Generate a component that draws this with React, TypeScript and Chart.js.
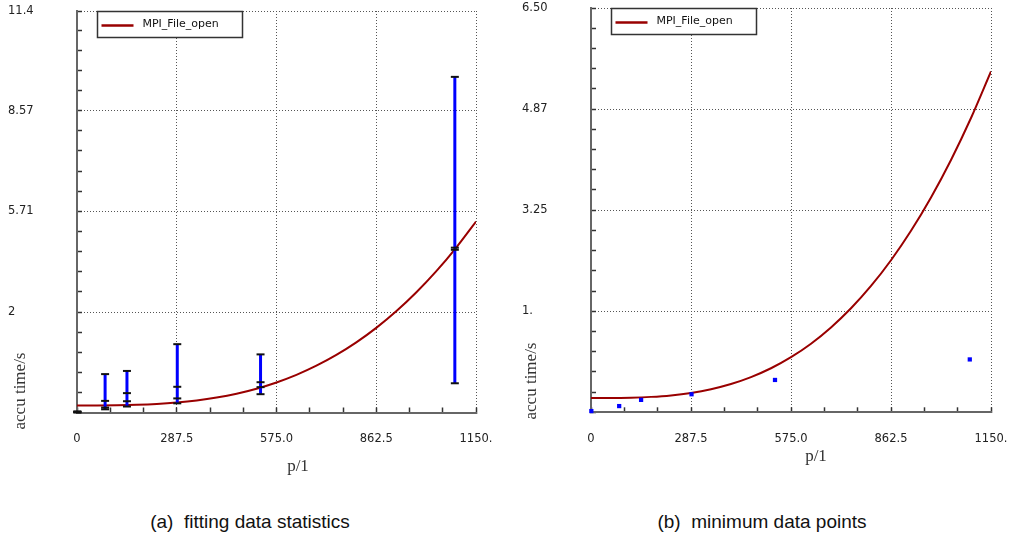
import React, { useEffect, useRef } from "react";
import { Chart, registerables } from "chart.js";

Chart.register(...registerables);

// ---------- data ----------
const pValues = [1, 81, 144, 289, 529, 1089];
const minTimes = [0.0, 0.09, 0.17, 0.26, 0.52, 0.83];
const lowMidTimes = [0.01, 0.14, 0.32, 0.4, 0.72, 4.62];
const highMidTimes = [0.02, 0.33, 0.55, 0.73, 0.86, 4.68];
const maxTimes = [0.03, 1.09, 1.18, 1.94, 1.65, 9.53];

const minPointTimes = [0.02, 0.1, 0.2, 0.29, 0.52, 0.85];

const fitP = [0, 57.5, 115, 172.5, 230, 287.5, 345, 402.5, 460, 517.5, 575, 632.5, 690, 747.5, 805, 862.5, 920, 977.5, 1035, 1092.5, 1150];
const fitStatsTimes = [0.2, 0.2, 0.205, 0.218, 0.242, 0.282, 0.341, 0.424, 0.534, 0.676, 0.853, 1.068, 1.328, 1.634, 1.99, 2.402, 2.873, 3.406, 4.005, 4.676, 5.42];
const fitMinTimes = [0.23, 0.23, 0.235, 0.248, 0.272, 0.312, 0.372, 0.455, 0.566, 0.708, 0.886, 1.103, 1.364, 1.672, 2.031, 2.445, 2.918, 3.454, 4.057, 4.731, 5.48];

const xMajorTicks = [0, 287.5, 575, 862.5, 1150];
const xTickLabels = ["0", "287.5", "575.0", "862.5", "1150."];
const yStatsTicks = [0, 2.85, 5.71, 8.57, 11.4];
const yStatsLabels = ["", "2", "5.71", "8.57", "11.4"];
const yMinTicks = [0, 1.625, 3.25, 4.875, 6.5];
const yMinLabels = ["", "1.", "3.25", "4.87", "6.50"];

const legendLabel = "MPI_File_open";
const xTitle = "p/1";
const yTitle = "accu time/s";
const captionA = "(a)  fitting data statistics";
const captionB = "(b)  minimum data points";

// ---------- styles ----------
const CURVE = "#990000";
const BAR = "#0000ff";
const TICK_FONT = { family: "'DejaVu Sans', sans-serif", size: 11.5 };
const TICK_COLOR = "#222";

function buildTicks(majors: number[], subdiv: number) {
  const out: number[] = [];
  for (let i = 0; i < majors.length; i++) {
    out.push(majors[i]);
    if (i < majors.length - 1) {
      for (let k = 1; k < subdiv; k++) {
        out.push(majors[i] + ((majors[i + 1] - majors[i]) * k) / subdiv);
      }
    }
  }
  return out.sort((a, b) => a - b);
}

function makeScale(axis: "x" | "y", majors: number[], labels: string[], subdiv: number, min: number, max: number, fitSize: number) {
  const all = buildTicks(majors, subdiv);
  const isMajor = (v: number) => majors.findIndex((m) => Math.abs(m - v) < 1e-6);
  return {
    type: "linear",
    position: axis === "x" ? "bottom" : "left",
    min,
    max,
    afterBuildTicks: (s: any) => {
      s.ticks = all.map((v) => ({ value: v }));
    },
    afterFit: (s: any) => {
      if (axis === "x") {
        s.height = fitSize;
        s.paddingLeft = 0;
        s.paddingRight = 0;
      } else {
        s.width = fitSize;
        s.paddingTop = 0;
        s.paddingBottom = 0;
      }
    },
    ticks: {
      autoSkip: false,
      maxRotation: 0,
      minRotation: 0,
      padding: axis === "x" ? 25 : 4,
      crossAlign: axis === "y" ? "far" : "near",
      font: TICK_FONT,
      color: TICK_COLOR,
      callback: (v: any) => {
        const i = isMajor(Number(v));
        return i >= 0 ? labels[i] : "";
      },
    },
    grid: {
      color: (ctx: any) => {
        const v = ctx.tick ? ctx.tick.value : null;
        if (v === null) return "rgba(0,0,0,0)";
        const i = isMajor(v);
        if (i > 0) return "#555";
        return "rgba(0,0,0,0)";
      },
      lineWidth: 1,
      drawTicks: true,
      tickLength: -5,
      tickColor: "#333",
      tickWidth: 1.5,
      tickBorderDash: [],
    },
    border: { display: true, color: "#666", width: 2, dash: [1, 2] },
  };
}

function decorPlugin(yTitlePos: { x: number; y: number }, xTitlePos: { x: number; y: number }) {
  return {
    id: "decor",
    afterDraw(chart: any) {
      const ctx = chart.ctx;
      const ca = chart.chartArea;
      ctx.save();
      // legend box
      const bx = Math.round(ca.left + 20) + 0.5;
      const by = Math.round(ca.top) + 0.5;
      ctx.fillStyle = "#fff";
      ctx.fillRect(bx, by, 145, 26);
      ctx.strokeStyle = "#333";
      ctx.lineWidth = 1.5;
      ctx.strokeRect(bx, by, 145, 26);
      ctx.strokeStyle = CURVE;
      ctx.lineWidth = 2.5;
      ctx.beginPath();
      ctx.moveTo(bx + 4, by + 14);
      ctx.lineTo(bx + 36, by + 14);
      ctx.stroke();
      ctx.fillStyle = "#111";
      ctx.font = "11px 'DejaVu Sans', sans-serif";
      ctx.textBaseline = "alphabetic";
      ctx.textAlign = "left";
      ctx.fillText(legendLabel, bx + 45, by + 15);
      // axis titles
      ctx.font = "17px 'Liberation Serif', serif";
      ctx.fillStyle = "#333";
      ctx.textAlign = "center";
      ctx.textBaseline = "middle";
      ctx.fillText(xTitle, xTitlePos.x, xTitlePos.y);
      ctx.translate(yTitlePos.x, yTitlePos.y);
      ctx.rotate(-Math.PI / 2);
      ctx.fillText(yTitle, 0, 0);
      ctx.restore();
    },
  };
}

function StatsChart() {
  const ref = useRef<HTMLCanvasElement>(null);
  useEffect(() => {
    if (!ref.current) return;
    const barSets = pValues.map((p, i) => ({
      type: "line",
      data: [
        { x: p, y: minTimes[i] },
        { x: p, y: lowMidTimes[i] },
        { x: p, y: highMidTimes[i] },
        { x: p, y: maxTimes[i] },
      ],
      borderColor: BAR,
      borderWidth: 3,
      pointStyle: "line",
      pointRadius: 4,
      pointBorderColor: "#111",
      pointBackgroundColor: "#111",
      pointBorderWidth: 2,
      clip: false,
    }));
    const chart = new Chart(ref.current, {
      type: "line",
      data: {
        datasets: [
          ...barSets,
          {
            type: "line",
            label: legendLabel,
            data: fitP.map((p, i) => ({ x: p, y: fitStatsTimes[i] })),
            borderColor: CURVE,
            borderWidth: 2,
            pointRadius: 0,
            cubicInterpolationMode: "monotone",
          },
        ] as any,
      },
      options: {
        animation: false,
        responsive: false,
        devicePixelRatio: 1,
        events: [],
        layout: { padding: { left: 8, top: 11, right: 29, bottom: 0 } },
        plugins: { legend: { display: false }, tooltip: { enabled: false } },
        scales: {
          x: makeScale("x", xMajorTicks, xTickLabels, 3, 0, 1150, 77.5) as any,
          y: makeScale("y", yStatsTicks, yStatsLabels, 5, 0, 11.4, 69) as any,
        },
      },
      plugins: [decorPlugin({ x: 21, y: 391 }, { x: 298, y: 467 })],
    } as any);
    return () => chart.destroy();
  }, []);
  return <canvas ref={ref} width={505} height={490} style={{ position: "absolute", left: 0, top: 0 }} />;
}

function MinChart() {
  const ref = useRef<HTMLCanvasElement>(null);
  useEffect(() => {
    if (!ref.current) return;
    const chart = new Chart(ref.current, {
      type: "line",
      data: {
        datasets: [
          {
            type: "line",
            data: pValues.map((p, i) => ({ x: p, y: minPointTimes[i] })),
            showLine: false,
            pointStyle: "rect",
            pointRadius: 3,
            pointBackgroundColor: BAR,
            pointBorderWidth: 0,
            clip: false,
          },
          {
            type: "line",
            label: legendLabel,
            data: fitP.map((p, i) => ({ x: p, y: fitMinTimes[i] })),
            borderColor: CURVE,
            borderWidth: 2,
            pointRadius: 0,
            cubicInterpolationMode: "monotone",
          },
        ] as any,
      },
      options: {
        animation: false,
        responsive: false,
        devicePixelRatio: 1,
        events: [],
        layout: { padding: { left: 14, top: 8, right: 25, bottom: 0 } },
        plugins: { legend: { display: false }, tooltip: { enabled: false } },
        scales: {
          x: makeScale("x", xMajorTicks, xTickLabels, 3, 0, 1150, 77.7) as any,
          y: makeScale("y", yMinTicks, yMinLabels, 5, 0, 6.5, 69) as any,
        },
      },
      plugins: [decorPlugin({ x: 24, y: 381 }, { x: 308, y: 457 })],
    } as any);
    return () => chart.destroy();
  }, []);
  return <canvas ref={ref} width={508} height={490} style={{ position: "absolute", left: 508, top: 0 }} />;
}

const captionStyle: React.CSSProperties = {
  position: "absolute",
  top: 510,
  width: 400,
  textAlign: "center",
  whiteSpace: "pre",
  fontFamily: "'Liberation Sans', Arial, sans-serif",
  fontSize: 19,
  color: "#111",
  lineHeight: "24px",
};

export default function App() {
  return (
    <div style={{ position: "absolute", left: 0, top: 0, width: 1016, height: 537, background: "#fff", overflow: "hidden" }}>
      <StatsChart />
      <MinChart />
      <div style={{ ...captionStyle, left: 50 }}>{captionA}</div>
      <div style={{ ...captionStyle, left: 562 }}>{captionB}</div>
    </div>
  );
}
